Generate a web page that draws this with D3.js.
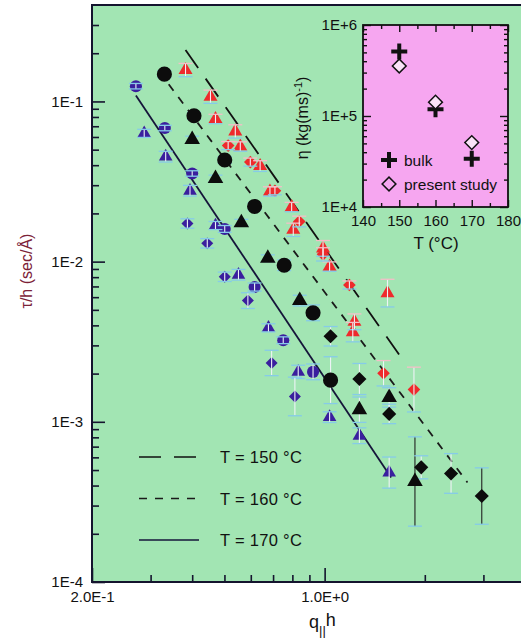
<!DOCTYPE html>
<html>
<head>
<meta charset="utf-8">
<script src="https://cdn.jsdelivr.net/npm/d3@7"></script>
<style>
  body { margin: 0; background: #fff; }
  svg { display: block; font-family: "Liberation Sans", Arial, sans-serif; }
</style>
</head>
<body>
<svg id="chart" width="521" height="644"></svg>
<script>
// each point: [q||h, tau/h (sec/A), error bar factor]
const blueCircles = [[0.271,0.1245,1.04],[0.331,0.0682,1.04],[0.400,0.0355,1.04],[0.501,0.0160,1.05],
  [0.616,0.00694,1.06],[0.751,0.00323,1.05],[0.923,0.00205,1.12]];
const blueTriangles = [[0.287,0.0632,1.06],[0.333,0.0452,1.08],[0.394,0.0277,1.08],[0.470,0.0168,1.06],
  [0.551,0.00828,1.08],[0.678,0.00386,1.06],[0.833,0.00205,1.1],[1.035,0.00107,1.08],
  [1.272,0.000819,1.12],[1.563,0.000482,1.25]];
const blueDiamonds = [[0.387,0.0173,1.07],[0.444,0.0130,1.07],[0.501,0.00804,1.07],[0.588,0.00571,1.12],
  [0.693,0.00233,1.2],[0.814,0.00144,1.32]];
const redTriangles = [[0.382,0.157,1.1],[0.454,0.107,1.1],[0.470,0.0777,1.07],[0.539,0.0650,1.1],
  [0.558,0.0523,1.07],[0.640,0.0395,1.08],[0.685,0.0274,1.07],[0.796,0.0219,1.07],[0.805,0.0158,1.1],
  [0.989,0.0121,1.12],[1.035,0.00931,1.07],[1.229,0.00421,1.12],[1.215,0.00363,1.15],[1.545,0.00636,1.22]];
const redDiamonds = [[0.513,0.0530,1.06],[0.598,0.0418,1.06],[0.709,0.0277,1.06],[0.839,0.0178,1.08],
  [0.989,0.0111,1.1],[1.187,0.00715,1.06],[1.503,0.00201,1.2],[1.855,0.00159,1.38]];
const blackCircles = [[0.330,0.148,1.05],[0.405,0.0814,1.05],[0.501,0.0431,1.05],[0.616,0.0221,1.05],
  [0.756,0.00949,1.08],[0.923,0.00479,1.12],[1.042,0.00182,1.4]];
const blackTriangles = [[0.400,0.0578,1.05],[0.470,0.0330,1.05],[0.562,0.0175,1.05],[0.675,0.0105,1.05],
  [0.842,0.00571,1.08],[1.272,0.00119,1.2],[1.563,0.00142,1.15],[1.868,0.000424,1.9]];
const blackDiamonds = [[1.042,0.00342,1.15],[1.272,0.00185,1.25],[1.563,0.00112,1.15],[1.951,0.000520,1.18],
  [2.398,0.000476,1.33],[2.966,0.000344,1.5]];

// fitted lines, end points
const fit150 = [[0.382,0.2096],[1.716,0.00244]];
const fit160 = [[0.340,0.128],[2.687,0.000418]];
const fit170 = [[0.271,0.109],[1.584,0.000449]];

const legendLabels = ["T = 150 °C", "T = 160 °C", "T = 170 °C"];

const yMajor = [1e-1, 1e-2, 1e-3, 1e-4];
const yMinor = [0.2,0.3, 0.02,0.03,0.04,0.05,0.06,0.07,0.08,0.09,
  0.002,0.003,0.004,0.005,0.006,0.007,0.008,0.009,
  0.0002,0.0003,0.0004,0.0005,0.0006,0.0007,0.0008,0.0009];
const xMajor = [0.2, 1.0];
const xMinor = [0.3,0.4,0.5,0.6,0.7,0.8,0.9,2,3];

// inset: viscosity vs temperature
const insetT = [150, 160, 170];
const bulkEta = [5.1e5, 1.19e5, 3.4e4];
const studyEta = [3.54e5, 1.42e5, 5.1e4];
const insetXTicks = [140, 150, 160, 170, 180];
const insetXMinor = [145, 155, 165, 175];
const insetYMajor = [1e4, 1e5, 1e6];
const insetYMinor = [2e4,3e4,4e4,5e4,6e4,7e4,8e4,9e4,2e5,3e5,4e5,5e5,6e5,7e5,8e5,9e5];

const svg = d3.select("#chart");
const BLUE = "#3a1f9e", RED = "#ee2a2c", BLACK = "#0c0c0c", INK = "#14142e";

const pL = 92, pR = 525, pT = 5, pB = 582;
const x = d3.scaleLog().domain([0.2, 4]).range([pL, pR]);
const y = d3.scaleLog().domain([1e-4, 0.4]).range([pB, pT]);

// plot background
svg.append("rect").attr("x", pL).attr("y", pT)
  .attr("width", pR - pL).attr("height", pB - pT)
  .attr("fill", "#a2e5b3");

// axes
svg.append("g").attr("transform", `translate(${pL},0)`)
  .call(d3.axisLeft(y).tickValues(yMajor).tickSizeInner(-13).tickSizeOuter(0).tickPadding(9)
    .tickFormat(d => "1E" + Math.round(Math.log10(d))));
svg.append("g").attr("transform", `translate(${pL},0)`)
  .call(d3.axisLeft(y).tickValues(yMinor).tickSizeInner(-7).tickSizeOuter(0).tickFormat(""));
svg.append("g").attr("transform", `translate(0,${pB})`)
  .call(d3.axisBottom(x).tickValues(xMajor).tickSizeInner(-14).tickSizeOuter(0).tickPadding(9)
    .tickFormat(d => d === 1 ? "1.0E+0" : "2.0E-1"));
svg.append("g").attr("transform", `translate(0,${pB})`)
  .call(d3.axisBottom(x).tickValues(xMinor).tickSizeInner(-7).tickSizeOuter(0).tickFormat(""));
svg.selectAll(".domain").remove();
svg.selectAll(".tick line").attr("stroke", INK).attr("stroke-width", 1.6);
svg.selectAll(".tick text").attr("font-size", 15).attr("fill", "#111")
  .attr("font-family", "Liberation Sans, Arial, sans-serif");

// frame
svg.append("path")
  .attr("d", `M${pR},${pT}H${pL}V${pB}H${pR}`)
  .attr("fill", "none").attr("stroke", INK).attr("stroke-width", 2);

// axis titles
svg.append("text").attr("transform", "translate(32,271) rotate(-90)")
  .attr("text-anchor", "middle").attr("font-size", 16).attr("fill", "#7c2238")
  .text("τ/h (sec/Å)");
const xt = svg.append("text").attr("x", 309).attr("y", 628).attr("font-size", 18).attr("fill", "#111");
xt.append("tspan").text("q");
xt.append("tspan").attr("dy", 7).attr("font-size", 13).text("||");
xt.append("tspan").attr("dy", -9).text("h");

// fit lines
const line = d3.line().x(d => x(d[0])).y(d => y(d[1]));
const fits = [
  { pts: fit150, dash: "22,13", color: "#111" },
  { pts: fit160, dash: "8,8", color: "#1a1a1a" },
  { pts: fit170, dash: null, color: "#15153a" }
];
fits.forEach(f => {
  svg.append("path").attr("d", line(f.pts)).attr("fill", "none")
    .attr("stroke", f.color).attr("stroke-width", 1.8)
    .attr("stroke-dasharray", f.dash);
});

// markers
const series = [
  { pts: blueCircles, color: BLUE, shape: "circle", size: 115 },
  { pts: blueTriangles, color: BLUE, shape: "triangle", size: 80 },
  { pts: blueDiamonds, color: BLUE, shape: "diamond", size: 72 },
  { pts: redTriangles, color: RED, shape: "triangle", size: 85 },
  { pts: redDiamonds, color: RED, shape: "diamond", size: 80 },
  { pts: blackCircles, color: BLACK, shape: "circle", size: 180 },
  { pts: blackTriangles, color: BLACK, shape: "triangle", size: 105 },
  { pts: blackDiamonds, color: BLACK, shape: "diamond", size: 100 }
];
const symType = { circle: d3.symbolCircle, triangle: d3.symbolTriangle, diamond: d3.symbolSquare };

function errorBars(g, s) {
  const cap = 7;
  s.pts.forEach(d => {
    const cx = x(d[0]), y1 = y(d[1] * d[2]), y2 = y(d[1] / d[2]);
    g.append("line").attr("x1", cx).attr("x2", cx).attr("y1", y1).attr("y2", y2)
      .attr("stroke", s.color === BLACK && d[2] > 1.45 ? "#222" : "#eef3f6").attr("stroke-width", 1.1);
    g.append("line").attr("x1", cx - cap).attr("x2", cx + cap).attr("y1", y1).attr("y2", y1)
      .attr("stroke", s.color === RED ? "#f3c0c8" : "#86cbe8").attr("stroke-width", 1.3);
    g.append("line").attr("x1", cx - cap).attr("x2", cx + cap).attr("y1", y2).attr("y2", y2)
      .attr("stroke", "#86cbe8").attr("stroke-width", 1.3);
  });
}

// black series: bars sit behind the solid markers
series.filter(s => s.color === BLACK).forEach(s => errorBars(svg.append("g"), s));

series.forEach(s => {
  const g = svg.append("g");
  g.selectAll("path").data(s.pts).enter().append("path")
    .attr("d", d3.symbol().type(symType[s.shape]).size(s.size))
    .attr("transform", d => `translate(${x(d[0])},${y(d[1])})` + (s.shape === "diamond" ? " rotate(45)" : ""))
    .attr("fill", s.color);
});

// coloured series: pale bars drawn over the markers
series.filter(s => s.color !== BLACK).forEach(s => errorBars(svg.append("g"), s));

// legend
const leg = svg.append("g");
fits.forEach((f, i) => {
  const ly = 457 + i * 41.5;
  leg.append("line").attr("x1", 139).attr("x2", 199).attr("y1", ly).attr("y2", ly)
    .attr("stroke", f.color).attr("stroke-width", 1.6).attr("stroke-dasharray", f.dash);
  leg.append("text").attr("x", 220).attr("y", ly + 6).attr("font-size", 16.5).attr("fill", "#111")
    .attr("letter-spacing", 0.3).text(legendLabels[i]);
});

// inset
const il = 363, ir = 508, it = 25, ib = 207;
const ix = d3.scaleLinear().domain([140, 180]).range([il, ir]);
const iy = d3.scaleLog().domain([1e4, 1e6]).range([ib, it]);
const inset = svg.append("g");
inset.append("rect").attr("x", il).attr("y", it).attr("width", ir - il).attr("height", ib - it)
  .attr("fill", "#f6a6f0");

inset.append("g").attr("transform", `translate(${il},0)`)
  .call(d3.axisLeft(iy).tickValues(insetYMajor).tickSizeInner(-8).tickSizeOuter(0).tickPadding(6)
    .tickFormat(d => "1E+" + Math.round(Math.log10(d))));
inset.append("g").attr("transform", `translate(${il},0)`)
  .call(d3.axisLeft(iy).tickValues(insetYMinor).tickSizeInner(-4).tickSizeOuter(0).tickFormat(""));
inset.append("g").attr("transform", `translate(${ir},0)`)
  .call(d3.axisRight(iy).tickValues(insetYMajor).tickSizeInner(-8).tickSizeOuter(0).tickFormat(""));
inset.append("g").attr("transform", `translate(${ir},0)`)
  .call(d3.axisRight(iy).tickValues(insetYMinor).tickSizeInner(-4).tickSizeOuter(0).tickFormat(""));
inset.append("g").attr("transform", `translate(0,${ib})`)
  .call(d3.axisBottom(ix).tickValues(insetXTicks).tickSizeInner(-7).tickSizeOuter(0).tickPadding(8)
    .tickFormat(d3.format("d")));
inset.append("g").attr("transform", `translate(0,${ib})`)
  .call(d3.axisBottom(ix).tickValues(insetXMinor).tickSizeInner(-4).tickSizeOuter(0).tickFormat(""));
inset.append("g").attr("transform", `translate(0,${it})`)
  .call(d3.axisTop(ix).tickValues(insetXTicks).tickSizeInner(-7).tickSizeOuter(0).tickFormat(""));
inset.append("g").attr("transform", `translate(0,${it})`)
  .call(d3.axisTop(ix).tickValues(insetXMinor).tickSizeInner(-4).tickSizeOuter(0).tickFormat(""));
inset.selectAll(".domain").remove();
inset.selectAll(".tick line").attr("stroke", "#111").attr("stroke-width", 1.4);
inset.selectAll(".tick text").attr("font-size", 15).attr("fill", "#111")
  .attr("font-family", "Liberation Sans, Arial, sans-serif");
inset.append("rect").attr("x", il).attr("y", it).attr("width", ir - il).attr("height", ib - it)
  .attr("fill", "none").attr("stroke", "#111").attr("stroke-width", 1.8);

const plusPath = "M-8,0H8M0,-8V8";
const diamondSym = d3.symbol().type(d3.symbolSquare).size(95);
inset.selectAll(".bulk").data(insetT).enter().append("path")
  .attr("d", plusPath).attr("transform", (t, i) => `translate(${ix(t)},${iy(bulkEta[i])})`)
  .attr("stroke", "#111").attr("stroke-width", 4).attr("fill", "none");
inset.selectAll(".study").data(insetT).enter().append("path")
  .attr("d", diamondSym)
  .attr("transform", (t, i) => `translate(${ix(t)},${iy(studyEta[i])}) rotate(45)`)
  .attr("stroke", "#111").attr("stroke-width", 1.5).attr("fill", "#fbe3f8");

inset.append("path").attr("d", plusPath).attr("transform", "translate(389,160)")
  .attr("stroke", "#111").attr("stroke-width", 4);
inset.append("text").attr("x", 404).attr("y", 166).attr("font-size", 15.5).attr("fill", "#111").text("bulk");
inset.append("path").attr("d", diamondSym)
  .attr("transform", "translate(389,184) rotate(45)")
  .attr("stroke", "#111").attr("stroke-width", 1.5).attr("fill", "none");
inset.append("text").attr("x", 404).attr("y", 190).attr("font-size", 15.5).attr("fill", "#111").text("present study");

const iyl = inset.append("text").attr("transform", "translate(308,118) rotate(-90)")
  .attr("text-anchor", "middle").attr("font-size", 16).attr("fill", "#111");
iyl.append("tspan").text("η (kg(ms)");
iyl.append("tspan").attr("dy", -6).attr("font-size", 11).text("-1");
iyl.append("tspan").attr("dy", 6).text(")");
inset.append("text").attr("x", 436).attr("y", 249).attr("text-anchor", "middle")
  .attr("font-size", 17).attr("fill", "#111").text("T (°C)");
</script>
</body>
</html>
